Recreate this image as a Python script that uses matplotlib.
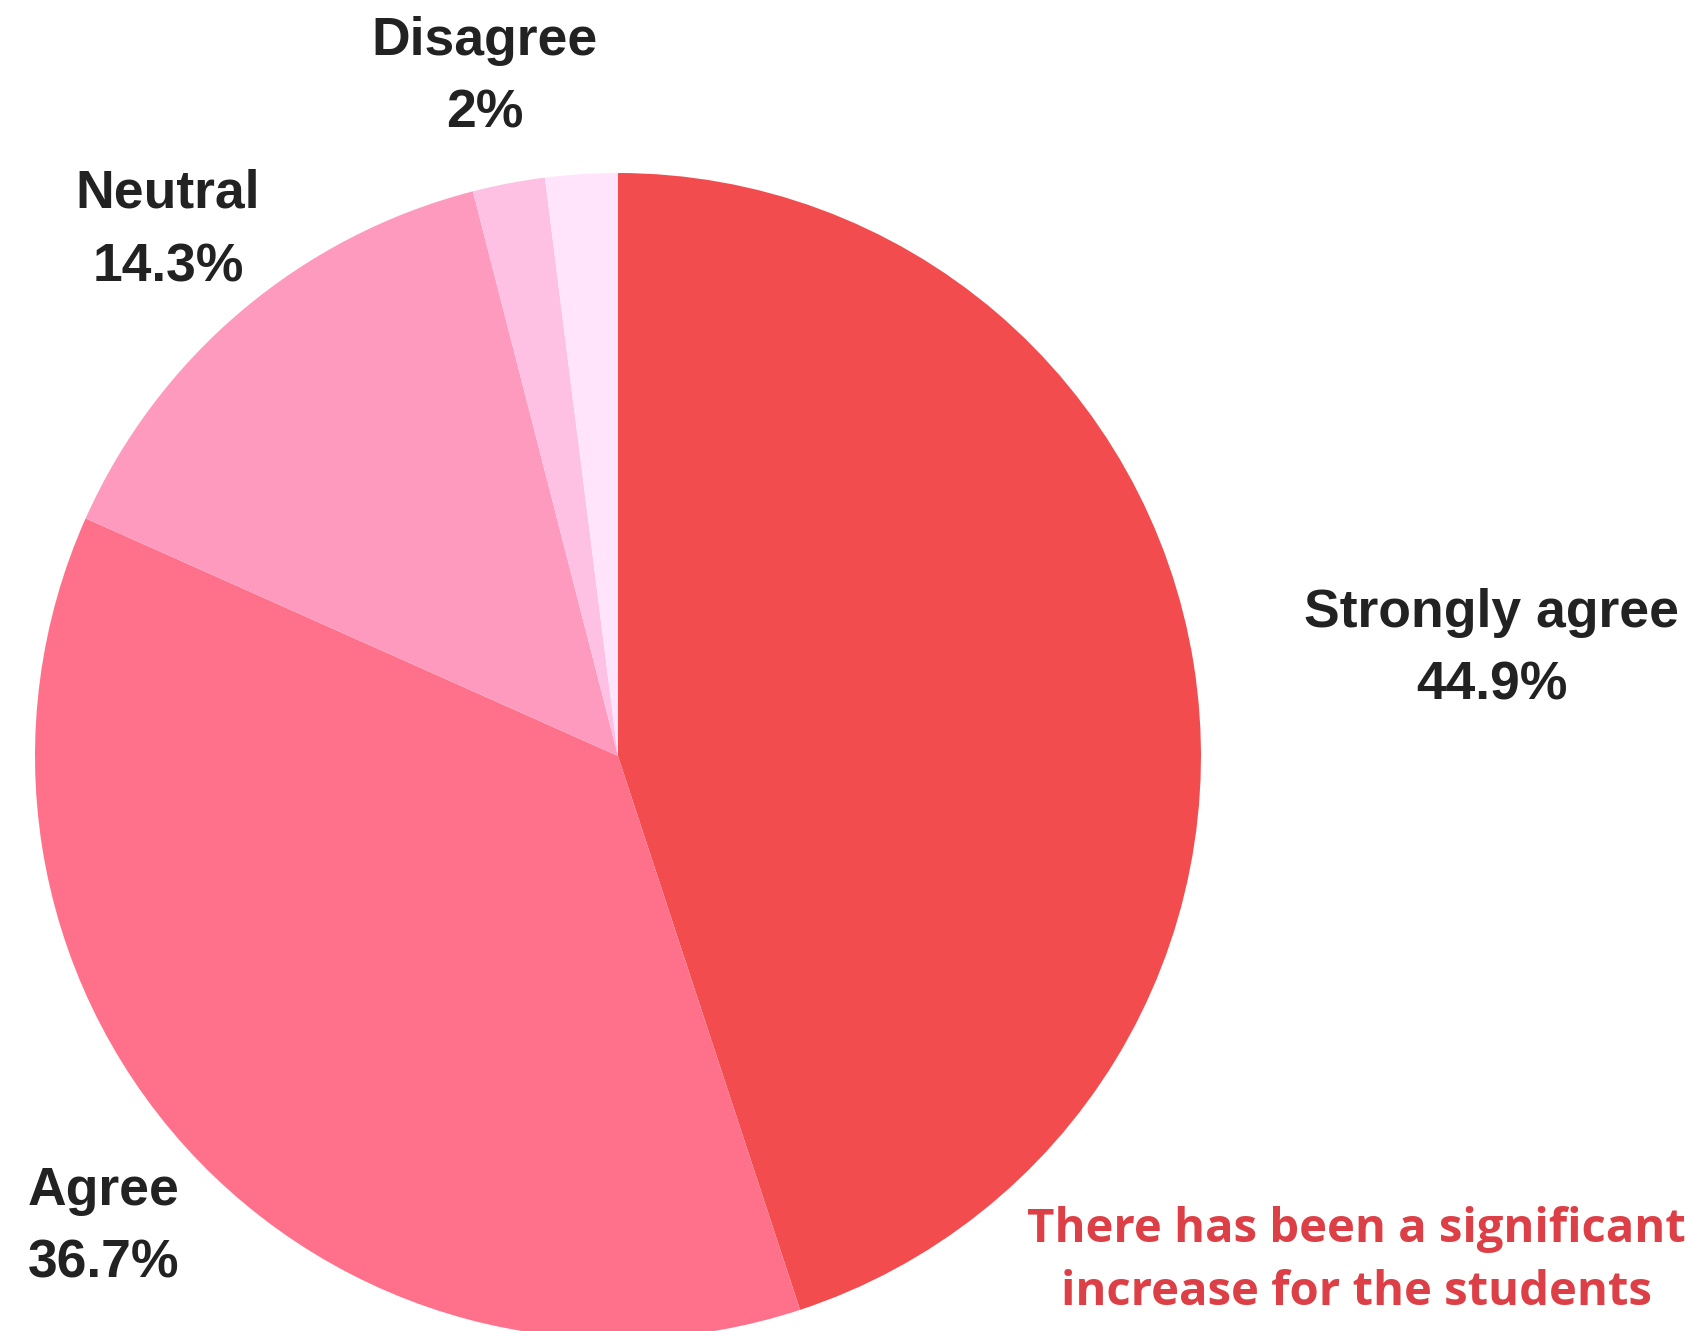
import matplotlib.pyplot as plt

# Survey answers, clockwise from 12 o'clock
categories = ["Strongly agree", "Agree", "Neutral", "Disagree", "Strongly disagree"]
shares = [44.9, 36.7, 14.3, 2.0, 2.0]
show_label = [True, True, True, True, False]
colors = ["#f24c4e", "#ff718b", "#ff9abf", "#ffc1e3", "#ffe4fb"]
caption = "There has been a significant\nincrease for the students"

W, H = 1698, 1331
fig = plt.figure(figsize=(W / 100, H / 100), dpi=100)
ax = fig.add_axes([0, 0, 1, 1])

ax.pie(
    shares,
    colors=colors,
    startangle=90,
    counterclock=False,
    center=(618, H - 756),
    radius=583,
    wedgeprops={"linewidth": 0},
)
ax.set_xlim(0, W)
ax.set_ylim(0, H)
ax.set_aspect("equal")
ax.axis("off")

# label anchors in pixels (x, y of first line, alignment)
label_pos = {
    "Strongly agree": (1492, 613, "center"),
    "Agree": (28, 1191, "left"),
    "Neutral": (168, 194, "center"),
    "Disagree": (485, 41, "center"),
}

for name, share, show in zip(categories, shares, show_label):
    if not show:
        continue
    x, y, ha = label_pos[name]
    pct = f"{share:g}%"
    ax.text(x, H - y, name, ha=ha, va="center", fontsize=38.5,
            fontweight="bold", family="Liberation Sans", color="#222222")
    ax.text(x, H - y - 73, pct, ha=ha, va="center", fontsize=38.5,
            fontweight="bold", family="Liberation Sans", color="#222222")

ax.text(1356, H - 1261, caption, ha="center", va="center", fontsize=34,
        fontweight="bold", family="Open Sans", color="#dc3f45",
        linespacing=1.47)

fig.savefig("out.png", dpi=100)
